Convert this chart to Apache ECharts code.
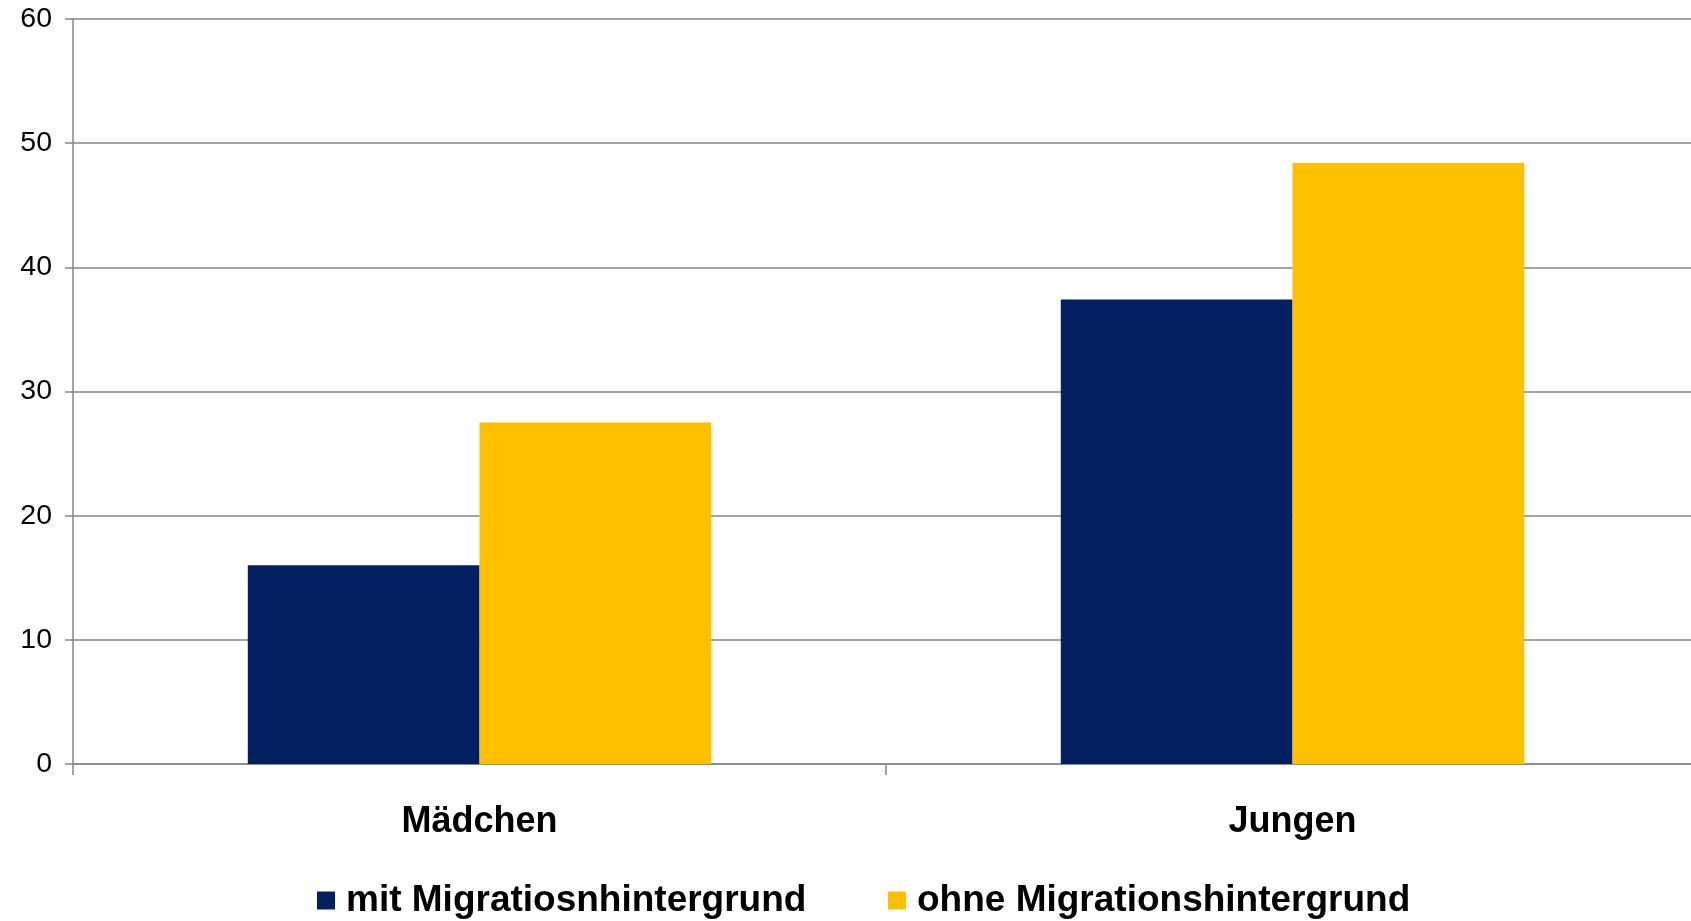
<!DOCTYPE html>
<html>
<head>
<meta charset="utf-8">
<script src="https://cdn.jsdelivr.net/npm/echarts@6/dist/echarts.min.js"></script>
<style>
  html, body { margin: 0; padding: 0; background: #fff; overflow: hidden; }
  /* canvas is a little wider than the window so the plot area runs past the right edge */
  #chart { width: 1699px; height: 921px; }
</style>
</head>
<body>
<div id="chart"></div>
<script>
// Kategorien und Werte
const categories = ['Mädchen', 'Jungen'];
const seriesNames = ['mit Migratiosnhintergrund', 'ohne Migrationshintergrund'];
const mitMigration = [16.0, 37.4];
const ohneMigration = [27.5, 48.4];
const yTicks = { min: 0, max: 60, interval: 10 };

const colors = ['#02205F', '#FFC000'];
const gridColor = '#868686';
const fontFamily = '"Liberation Sans", Arial, sans-serif';

const chart = echarts.init(document.getElementById('chart'), null, { renderer: 'canvas' });

const legendStyle = {
  orient: 'horizontal',
  top: 877,
  itemWidth: 18,
  itemHeight: 18,
  itemGap: 15,
  icon: 'rect',
  textStyle: { fontFamily, fontSize: 37, fontWeight: 'bold', color: '#000', padding: [0, 0, 0, 6] }
};

chart.setOption({
  animation: false,
  backgroundColor: '#ffffff',
  grid: { left: 73, right: 0, top: 19, bottom: 157 },
  legend: [
    Object.assign({ left: 312, data: [seriesNames[0]] }, legendStyle),
    Object.assign({ left: 883, data: [seriesNames[1]] }, legendStyle)
  ],
  xAxis: {
    type: 'category',
    data: categories,
    axisLine: { lineStyle: { color: gridColor, width: 1.5 } },
    axisTick: { show: true, length: 11, lineStyle: { color: gridColor, width: 1.5 } },
    axisLabel: { fontFamily, fontSize: 36, fontWeight: 'bold', color: '#000', margin: 40 }
  },
  yAxis: {
    type: 'value',
    min: yTicks.min,
    max: yTicks.max,
    interval: yTicks.interval,
    axisLine: { show: true, lineStyle: { color: gridColor, width: 1.5 } },
    axisTick: { show: true, length: 8, lineStyle: { color: gridColor, width: 1.5 } },
    splitLine: { show: true, lineStyle: { color: gridColor, width: 1.5 } },
    axisLabel: { fontFamily, fontSize: 28.5, color: '#000', margin: 21 }
  },
  series: [
    {
      name: seriesNames[0],
      type: 'bar',
      data: mitMigration,
      itemStyle: { color: colors[0] },
      barGap: '0%',
      barCategoryGap: '43%'
    },
    {
      name: seriesNames[1],
      type: 'bar',
      data: ohneMigration,
      itemStyle: { color: colors[1] },
      barGap: '0%',
      barCategoryGap: '43%'
    }
  ]
});
</script>
</body>
</html>
